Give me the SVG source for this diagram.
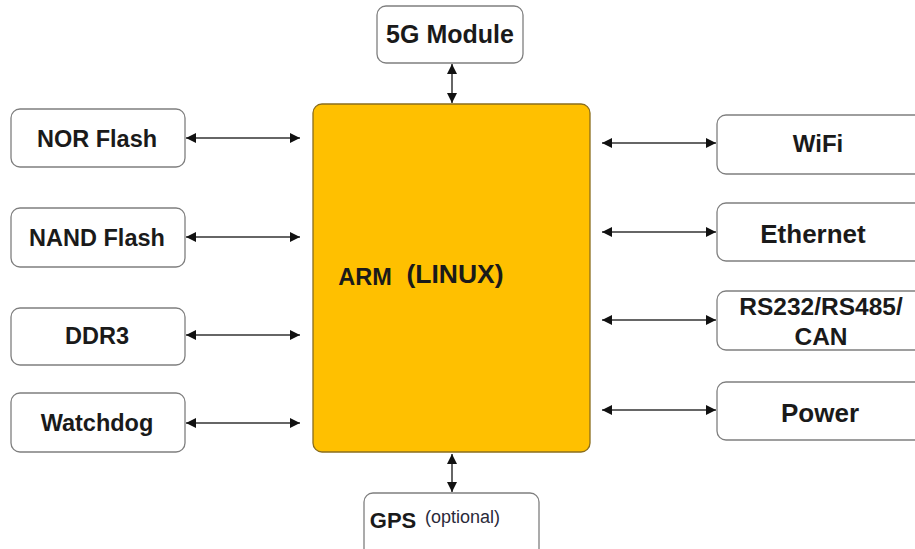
<svg xmlns="http://www.w3.org/2000/svg" width="915" height="549" viewBox="0 0 915 549">
<style>
.box{fill:#fff;stroke:#7f7f7f;stroke-width:1.3}
.cpu{fill:#FFC000;stroke:#8a6d1c;stroke-width:1.3}
.t{font-family:"Liberation Sans",Arial,sans-serif;font-weight:bold;fill:#1a1a1a;text-anchor:middle}
.c{stroke:#333;stroke-width:1.5;fill:none;marker-start:url(#ah);marker-end:url(#ah)}
</style>
<defs>
<marker id="ah" viewBox="0 0 10 10" refX="10" refY="5" markerWidth="12" markerHeight="10" markerUnits="userSpaceOnUse" orient="auto-start-reverse">
<path d="M0,0 L10,5 L0,10 z" fill="#111"/>
</marker>
</defs>
<rect width="915" height="549" fill="#fff"/>
<g id="connectors">
<line class="c" x1="186" y1="138" x2="300" y2="138"/>
<line class="c" x1="186" y1="237" x2="300" y2="237"/>
<line class="c" x1="186" y1="335" x2="300" y2="335"/>
<line class="c" x1="186" y1="423" x2="300" y2="423"/>
<line class="c" x1="602" y1="143" x2="716" y2="143"/>
<line class="c" x1="602" y1="232" x2="716" y2="232"/>
<line class="c" x1="602" y1="320" x2="716" y2="320"/>
<line class="c" x1="602" y1="410" x2="716" y2="410"/>
<line class="c" x1="452" y1="64" x2="452" y2="103"/>
<line class="c" x1="452" y1="454" x2="452" y2="492"/>
</g>
<g id="arm">
<rect class="cpu" x="313" y="104" width="277" height="348" rx="9"/>
<text class="t" x="365" y="285" font-size="23.5">ARM</text>
<text class="t" x="455" y="283" font-size="26.5">(LINUX)</text>
</g>
<g id="g5">
<rect class="box" x="377" y="6" width="146" height="57" rx="9"/>
<text class="t" x="450" y="43" font-size="25">5G Module</text>
</g>
<g id="nor">
<rect class="box" x="11" y="109" width="174" height="58" rx="9"/>
<text class="t" x="97" y="147" font-size="23.5">NOR Flash</text>
</g>
<g id="nand">
<rect class="box" x="11" y="208" width="174" height="59" rx="9"/>
<text class="t" x="97" y="246" font-size="23.5">NAND Flash</text>
</g>
<g id="ddr3">
<rect class="box" x="11" y="308" width="174" height="57" rx="9"/>
<text class="t" x="97" y="344" font-size="23.5">DDR3</text>
</g>
<g id="watchdog">
<rect class="box" x="11" y="393" width="174" height="59" rx="9"/>
<text class="t" x="97" y="431" font-size="23.5">Watchdog</text>
</g>
<g id="wifi">
<rect class="box" x="717" y="115" width="210" height="59" rx="9"/>
<text class="t" x="818" y="152" font-size="24">WiFi</text>
</g>
<g id="ethernet">
<rect class="box" x="717" y="203" width="210" height="58" rx="9"/>
<text class="t" x="813" y="243" font-size="26">Ethernet</text>
</g>
<g id="serial">
<rect class="box" x="717" y="291" width="210" height="59" rx="9"/>
<text class="t" x="821" y="315" font-size="24.5">RS232/RS485/</text>
<text class="t" x="821" y="345" font-size="24.5">CAN</text>
</g>
<g id="power">
<rect class="box" x="717" y="382" width="210" height="58" rx="9"/>
<text class="t" x="820" y="422" font-size="26">Power</text>
</g>
<g id="gps">
<rect class="box" x="364" y="493" width="175" height="70" rx="9"/>
<text class="t" x="393" y="528" font-size="22">GPS</text>
<text x="425" y="523" font-size="18" font-family="Liberation Sans,Arial,sans-serif" fill="#2a2a3a">(optional)</text>
</g>
</svg>
